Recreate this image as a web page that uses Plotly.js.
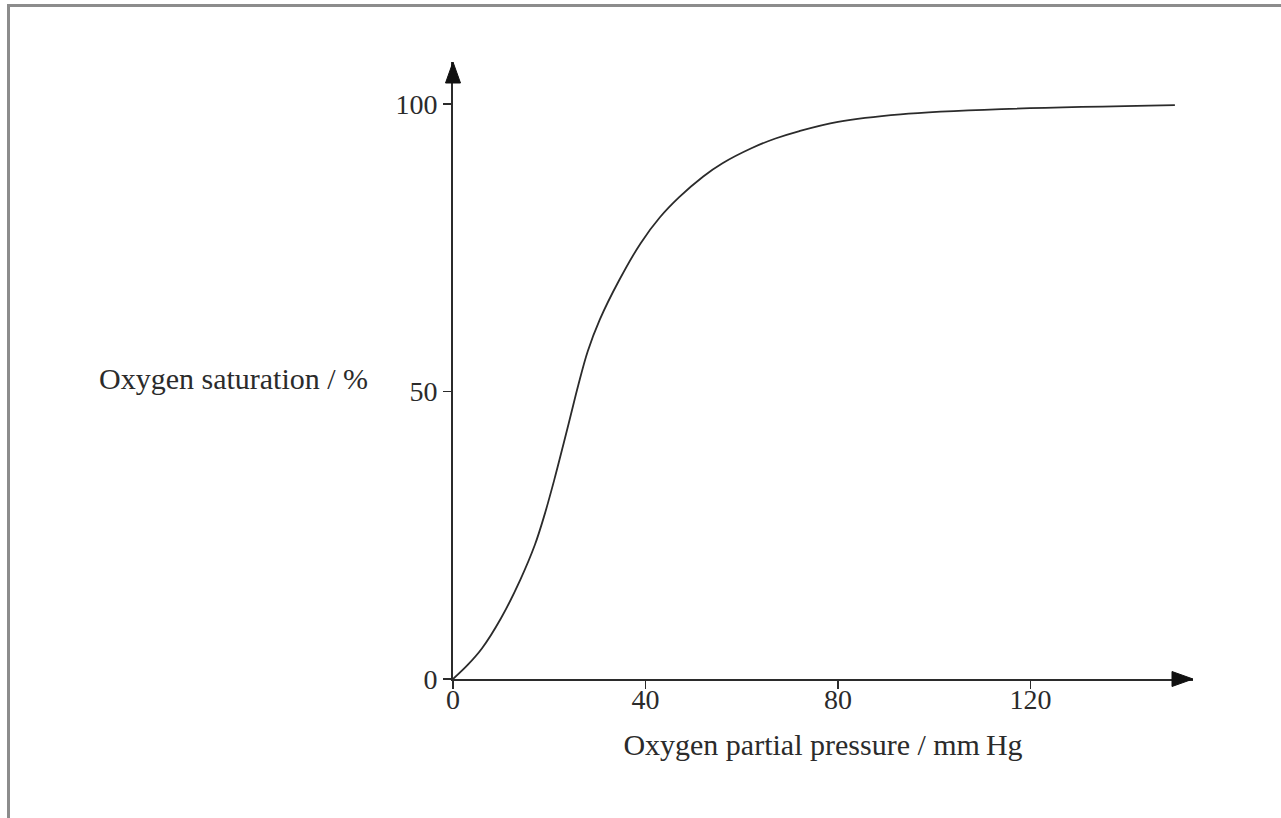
<!DOCTYPE html>
<html>
<head>
<meta charset="utf-8">
<script src="https://cdn.plot.ly/plotly-3.0.1.min.js"></script>
<style>
  html, body { margin: 0; padding: 0; background: #fff; }
  #wrap { position: relative; width: 1281px; height: 818px; overflow: hidden; }
  #frame { position: absolute; left: 7px; top: 4px; width: 1290px; height: 830px;
           border-top: 3px solid #8c8c8c; border-left: 3px solid #8c8c8c; box-sizing: border-box; pointer-events: none; z-index: 2; }
  #chart { position: absolute; left: 0; top: 0; width: 1281px; height: 818px; }
</style>
</head>
<body>
<div id="wrap">
  <div id="chart"></div>
  <div id="frame"></div>
</div>
<script>
// Oxygen dissociation curve
const pressure   = [0, 3, 6, 10, 14, 17, 19, 21, 23, 24.5, 26, 28, 30.5, 34.5, 39, 43, 47, 52, 56, 62, 67, 72, 80, 93, 114, 150];
const saturation = [0, 2.4, 5.3, 10.6, 17.3, 23.3, 28.5, 34.5, 41, 46, 51, 57, 62.5, 69.3, 75.8, 80.3, 83.8, 87.4, 89.7, 92.3, 94, 95.3, 96.9, 98.2, 99.1, 99.8];
const xTicks = [0, 40, 80, 120];
const yTicks = [0, 50, 100];
const xTitle = 'Oxygen partial pressure / mm\u2009Hg';
const yTitle = 'Oxygen saturation / %';

const ink = '#2b2b2b';
const fontFam = '"Liberation Serif", "Times New Roman", serif';
const tickSize = 28, titleSize = 30;

const W = 1281, H = 818;
const L = 453, R = 88, T = 62, B = 139;
const plotW = W - L - R, plotH = H - T - B;
const pxPerX = 4.8125, pxPerY = 5.75;

const trace = {
  x: pressure, y: saturation, type: 'scatter', mode: 'lines',
  line: { color: ink, width: 1.8, shape: 'spline', smoothing: 1 },
  hoverinfo: 'skip', cliponaxis: false
};

// arrowheads in paper coords
const ahLen = 21, ahHalf = 7.5;
const dx = ahLen / plotW, hy = ahHalf / plotH;
const dy = ahLen / plotH, hx = ahHalf / plotW;

const layout = {
  width: W, height: H,
  margin: { l: L, r: R, t: T, b: B },
  paper_bgcolor: '#fff', plot_bgcolor: '#fff',
  showlegend: false,
  font: { family: fontFam, color: ink, size: tickSize },
  xaxis: {
    range: [0, plotW / pxPerX],
    tickvals: xTicks, ticktext: xTicks.map(String),
    ticks: 'outside', ticklen: 8, tickwidth: 1.5, tickcolor: ink,
    ticklabelstandoff: -14,
    showline: true, linecolor: ink, linewidth: 2,
    showgrid: false, zeroline: false,
    tickfont: { family: fontFam, size: tickSize, color: ink },
    title: { text: xTitle, font: { family: fontFam, size: titleSize, color: ink }, standoff: 20 },
    fixedrange: true
  },
  yaxis: {
    range: [0, plotH / pxPerY],
    tickvals: yTicks, ticktext: yTicks.map(String),
    ticks: 'outside', ticklen: 8, tickwidth: 1.5, tickcolor: ink,
    showline: true, linecolor: ink, linewidth: 2,
    showgrid: false, zeroline: false,
    tickfont: { family: fontFam, size: tickSize, color: ink },
    fixedrange: true
  },
  shapes: [
    { type: 'path', xref: 'paper', yref: 'paper',
      path: `M ${1} 0 L ${1 - dx} ${hy} L ${1 - dx} ${-hy} Z`,
      fillcolor: '#111', line: { color: '#111', width: 1 } },
    { type: 'path', xref: 'paper', yref: 'paper',
      path: `M 0 1 L ${hx} ${1 - dy} L ${-hx} ${1 - dy} Z`,
      fillcolor: '#111', line: { color: '#111', width: 1 } }
  ],
  annotations: [
    { text: yTitle, xref: 'paper', yref: 'y', x: (97 - L) / plotW, y: 52.3,
      xanchor: 'left', yanchor: 'middle', showarrow: false,
      font: { family: fontFam, size: titleSize, color: ink } }
  ]
};

Plotly.newPlot('chart', [trace], layout, { displayModeBar: false, staticPlot: true });
</script>
</body>
</html>
